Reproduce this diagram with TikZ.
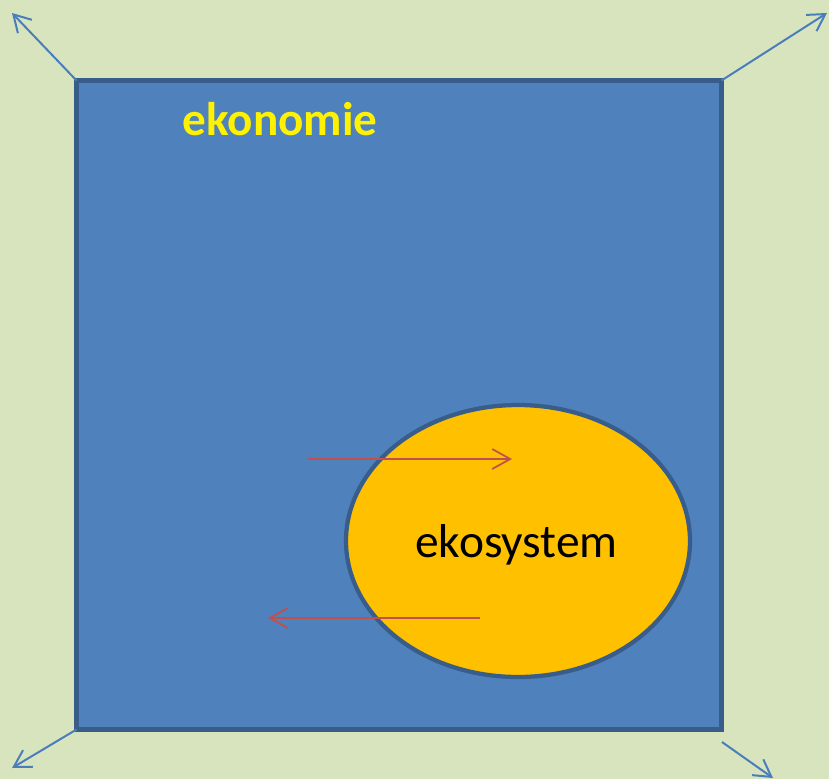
\documentclass[tikz,border=0pt]{standalone}
\usepackage{fontspec}
\setmainfont{Carlito}
\usetikzlibrary{arrows.meta,shapes.geometric}
\definecolor{bg}{HTML}{D8E4BE}
\definecolor{boxfill}{HTML}{4F81BD}
\definecolor{boxline}{HTML}{385D8A}
\definecolor{ecofill}{HTML}{FFC000}
\definecolor{arrblue}{HTML}{4A7EBB}
\definecolor{arrred}{HTML}{C0504D}
\tikzset{
  outarrow/.style={draw=arrblue, line width=1.5pt, -{Straight Barb[length=12.5pt,width=14.5pt,line width=1.5pt]}},
  flowarrow/.style={draw=arrred, line width=1.3pt, -{Straight Barb[length=13.5pt,width=15pt,line width=1.3pt]}},
  econbox/.style={draw=boxline, fill=boxfill, line width=3.75pt, minimum width=483.75pt, minimum height=486.75pt, inner sep=0pt, outer sep=0pt},
  ecoellipse/.style={ellipse, draw=boxline, fill=ecofill, line width=3.2pt, minimum width=258pt, minimum height=204pt, inner sep=0pt},
}
\begin{document}
\begin{tikzpicture}[x=0.75pt,y=-0.75pt]
\useasboundingbox (0,0) rectangle (829,779);
\fill[bg] (0,0) rectangle (829,779);
\node[econbox] (econ) at (399,405) {};
\node[ecoellipse] (eco) at (518,541) {};
\node[anchor=base, text=yellow, font=\bfseries\fontsize{35.4}{42}\selectfont] (ekon) at (280,135) {ekonomie};
\node[anchor=base, text=black, font=\fontsize{35.6}{42}\selectfont] (ekos) at (516.5,557) {ekosystem};
\coordinate (tl) at (12,13);
\coordinate (tr) at (827,13);
\coordinate (bl) at (12,768);
\coordinate (br) at (773,778);
\coordinate (brs) at (722,742);
\draw[outarrow] (econ.north west) -- (tl);
\draw[outarrow] (econ.north east) -- (tr);
\draw[outarrow] (econ.south west) -- (bl);
\draw[outarrow] (brs) -- (br);
\coordinate (in1) at (308,459);
\coordinate (in2) at (512,459);
\coordinate (out1) at (480,618);
\coordinate (out2) at (268,618);
\draw[flowarrow] (in1) -- (in2);
\draw[flowarrow] (out1) -- (out2);
\end{tikzpicture}
\end{document}
